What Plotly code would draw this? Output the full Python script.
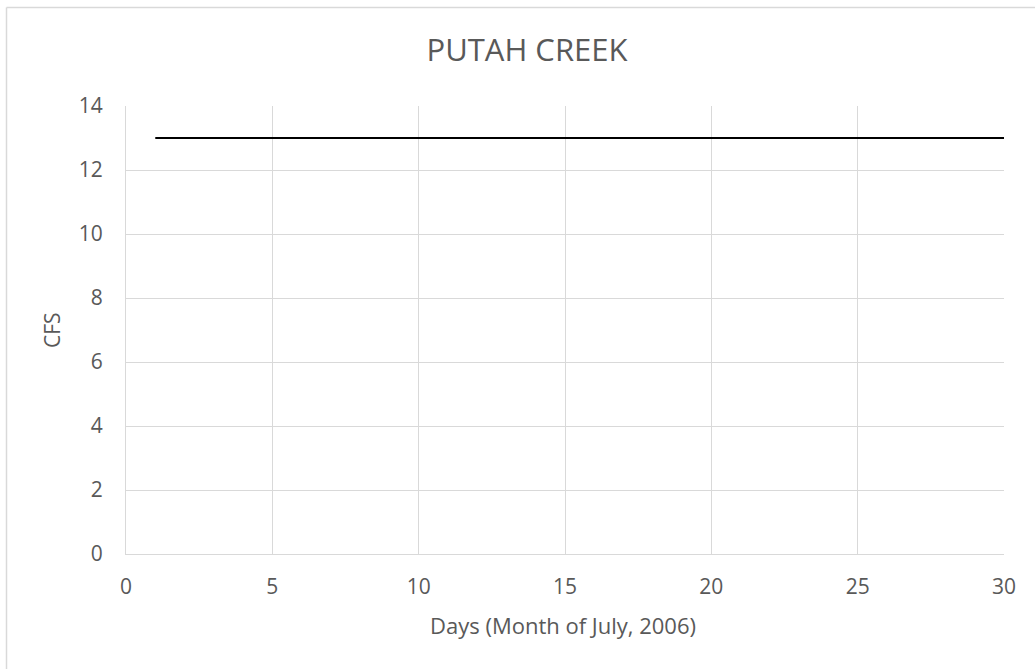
import plotly.graph_objects as go

# Daily flow, July 2006
days = [1, 2, 3, 4, 5, 6, 7, 8, 9, 10, 11, 12, 13, 14, 15,
        16, 17, 18, 19, 20, 21, 22, 23, 24, 25, 26, 27, 28, 29, 30]
cfs = [13, 13, 13, 13, 13, 13, 13, 13, 13, 13, 13, 13, 13, 13, 13,
       13, 13, 13, 13, 13, 13, 13, 13, 13, 13, 13, 13, 13, 13, 13]

x_ticks = [0, 5, 10, 15, 20, 25, 30]
y_ticks = [0, 2, 4, 6, 8, 10, 12, 14]

FONT = "Open Sans, Liberation Sans, sans-serif"
GRID = "#d9d9d9"
TEXT = "#595959"

fig = go.Figure()
fig.add_trace(go.Scatter(
    x=days, y=cfs, mode="lines",
    line=dict(color="#000000", width=2),
    showlegend=False, hoverinfo="x+y",
))

W, H = 1035, 669
L, R, T, B = 126, 31, 106, 115
pw, ph = W - L - R, H - T - B


def px_x(px):
    """Pixel column -> paper x."""
    return (px - L) / pw


def px_y(py):
    """Pixel row -> paper y."""
    return (H - B - py) / ph


fig.update_layout(
    width=W, height=H,
    margin=dict(l=L, r=R, t=T, b=B),
    paper_bgcolor="white", plot_bgcolor="white",
    font=dict(family=FONT, color=TEXT, size=21),
    title=dict(text="PUTAH CREEK", x=527 / W, xanchor="center",
               y=1 - 50 / H, yanchor="middle",
               font=dict(size=31, color=TEXT, family=FONT)),
    xaxis=dict(
        range=[0, 30], tickvals=x_ticks, ticktext=[str(v) for v in x_ticks],
        showgrid=True, gridcolor=GRID, gridwidth=1,
        showline=True, linecolor=GRID, linewidth=1, mirror=False,
        zeroline=False, ticks="", ticklabelstandoff=14,
        tickfont=dict(size=21, color=TEXT),
    ),
    yaxis=dict(
        range=[0, 14], tickvals=y_ticks, ticktext=[str(v) for v in y_ticks],
        showgrid=True, gridcolor=GRID, gridwidth=1,
        showline=True, linecolor=GRID, linewidth=1,
        zeroline=False, ticks="", ticklabelstandoff=18,
        tickfont=dict(size=21, color=TEXT),
    ),
    annotations=[
        dict(text="Days (Month of July, 2006)", xref="paper", yref="paper",
             x=px_x(563), y=px_y(625), xanchor="center", yanchor="middle",
             showarrow=False, font=dict(size=22, color=TEXT)),
        dict(text="CFS", xref="paper", yref="paper",
             x=px_x(52), y=px_y(330), xanchor="center", yanchor="middle",
             textangle=-90, showarrow=False,
             font=dict(size=21, color=TEXT)),
    ],
    shapes=[
        # chart frame: left and top edges
        dict(type="line", xref="paper", yref="paper",
             x0=px_x(6.5), x1=px_x(6.5), y0=px_y(H + 5), y1=px_y(7.5),
             line=dict(color=GRID, width=1.5)),
        dict(type="line", xref="paper", yref="paper",
             x0=px_x(6.5), x1=px_x(W + 5), y0=px_y(7.5), y1=px_y(7.5),
             line=dict(color=GRID, width=1.5)),
    ],
)

fig.write_html("out.html")
